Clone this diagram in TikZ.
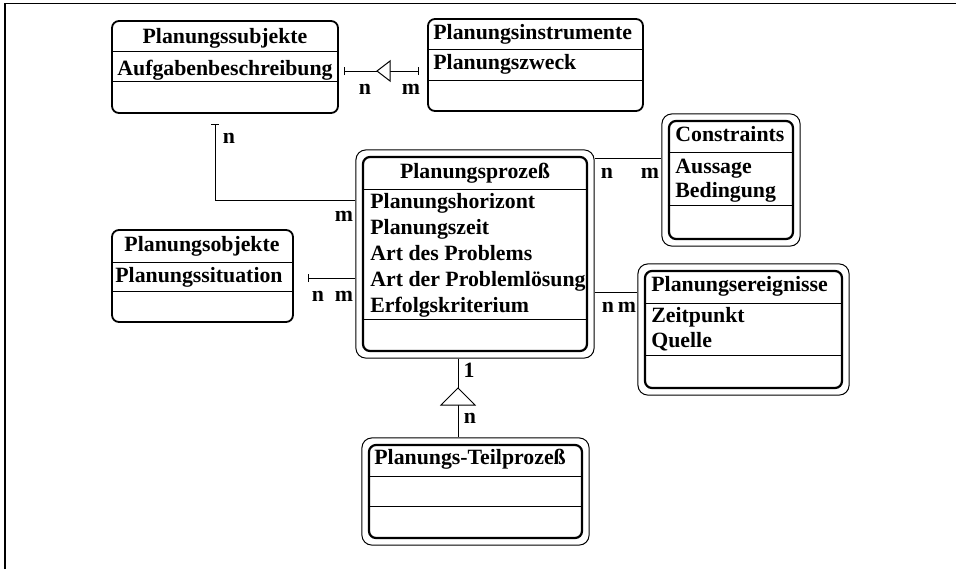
\documentclass[tikz,border=0pt]{standalone}
\usepackage{fontspec}
\setmainfont{Liberation Serif}
\usepackage{tikz}
\usetikzlibrary{arrows.meta, positioning, fit}
\newcommand{\planfont}{\fontsize{10.9}{13}\selectfont\bfseries}

\begin{document}
\begin{tikzpicture}[x=0.5pt, y=-0.5pt, font=\planfont,
    box/.style={draw, line width=0.9pt, rounded corners=3.5pt, inner sep=0pt},
    hbox/.style={draw, line width=1.1pt, rounded corners=3.5pt, inner sep=0pt},
    obox/.style={draw, line width=0.5pt, rounded corners=5pt, inner sep=3pt},
    sep/.style={line width=0.5pt},
    conn/.style={line width=0.5pt},
    tick/.style={{Bar[width=4pt]}-},
    lbl/.style={inner sep=0pt, anchor=base west},
    hdr/.style={inner sep=0pt, anchor=base},
    card/.style={inner sep=0pt}]
\useasboundingbox (0,0) rectangle (956,569);
\draw[line width=0.7pt] (5,569) -- (5,3.5) -- (956,3.5);

% class boxes
\node[box, fit={(112,21) (338,113)}] (subj) {};
\node[box, fit={(428,19) (643,111)}] (instr) {};
\node[box, fit={(112,230) (293,322)}] (obj) {};
\node[hbox, fit={(363,157) (587,351)}] (proz) {};
\node[obox, fit=(proz)] (prozO) {};
\node[hbox, fit={(669,121) (793,239)}] (cons) {};
\node[obox, fit=(cons)] (consO) {};
\node[hbox, fit={(645,271) (842,388)}] (ereig) {};
\node[obox, fit=(ereig)] (ereigO) {};
\node[hbox, fit={(369,445) (582,538)}] (teil) {};
\node[obox, fit=(teil)] (teilO) {};

\foreach \b/\ya/\yb in {subj/51/81, instr/49/80, obj/262/291, proz/189/319,
    cons/152/205, ereig/303/355, teil/476/506}
  \draw[sep] (\b.west |- 0,\ya) -- (\b.east |- 0,\ya) (\b.west |- 0,\yb) -- (\b.east |- 0,\yb);

% headers
\node[hdr] (subjH) at (225,43) {Planungssubjekte};
\node[lbl] (instrH) at (433,39) {Planungsinstrumente};
\node[hdr] (objH) at (202,251) {Planungsobjekte};
\node[hdr] (prozH) at (475,178) {Planungsprozeß};
\node[lbl] (consH) at (675,141) {Constraints};
\node[lbl] (ereigH) at (651,291) {Planungsereignisse};
\node[lbl] (teilH) at (374,464) {Planungs-Teilprozeß};

% attributes
\node[lbl] (subjA) at (117,75) {Aufgabenbeschreibung};
\node[lbl] (instrA) at (433,69) {Planungszweck};
\node[lbl] (objA) at (115,282) {Planungssituation};
\foreach \t [count=\i] in {Planungshorizont, Planungszeit, Art des Problems,
    Art der Problemlösung, Erfolgskriterium}
  \node[lbl] (prozA\i) at (370, 182+\i*26) {\t};
\node[lbl] (consA1) at (675,173) {Aussage};
\node[lbl] (consA2) at (675,197) {Bedingung};
\node[lbl] (ereigA1) at (651,322) {Zeitpunkt};
\node[lbl] (ereigA2) at (651,347) {Quelle};

% connectors
\coordinate (triA) at (377,71);
\coordinate (triB) at (390,71);
\draw[conn, tick, shorten <=2.5pt] (subj.east |- triA) -- (triA);
\draw[conn, -{Bar[width=4pt]}, shorten >=4pt] (triB) -- (instr.west |- triB);
\draw[conn, fill=white] (triA) -- (390,61) -- (390,81) -- cycle;

\draw[conn, tick, shorten <=5pt] ([xshift=-5pt]subj.south) |- (prozO.west |- 0,200);
\draw[conn, tick, shorten <=7pt] (obj.east |- 0,278) -- (prozO.west |- 0,278);
\draw[conn] (prozO.east |- 0,158) -- (consO.west |- 0,158);
\draw[conn] (prozO.east |- 0,292) -- (ereigO.west |- 0,292);

\coordinate (triT) at (458,388);
\coordinate (triU) at (458,405);
\draw[conn] (prozO.south -| triT) -- (triT);
\draw[conn] (triU) -- (teilO.north -| triU);
\draw[conn, fill=white] (triT) -- (441,405) -- (475,405) -- cycle;

% cardinalities
\node[card] (c1) at (365,89) {n};
\node[card] (c2) at (411,89) {m};
\node[card] (c3) at (229,138) {n};
\node[card] (c4) at (344,216) {m};
\node[card] (c5) at (318,296) {n};
\node[card] (c6) at (344,296) {m};
\node[card] (c7) at (607,173) {n};
\node[card] (c8) at (650,173) {m};
\node[card] (c9) at (608,307) {n};
\node[card] (c10) at (627,307) {m};
\node[card] (c11) at (469,370) {1};
\node[card] (c12) at (470,418) {n};
\end{tikzpicture}
\end{document}
